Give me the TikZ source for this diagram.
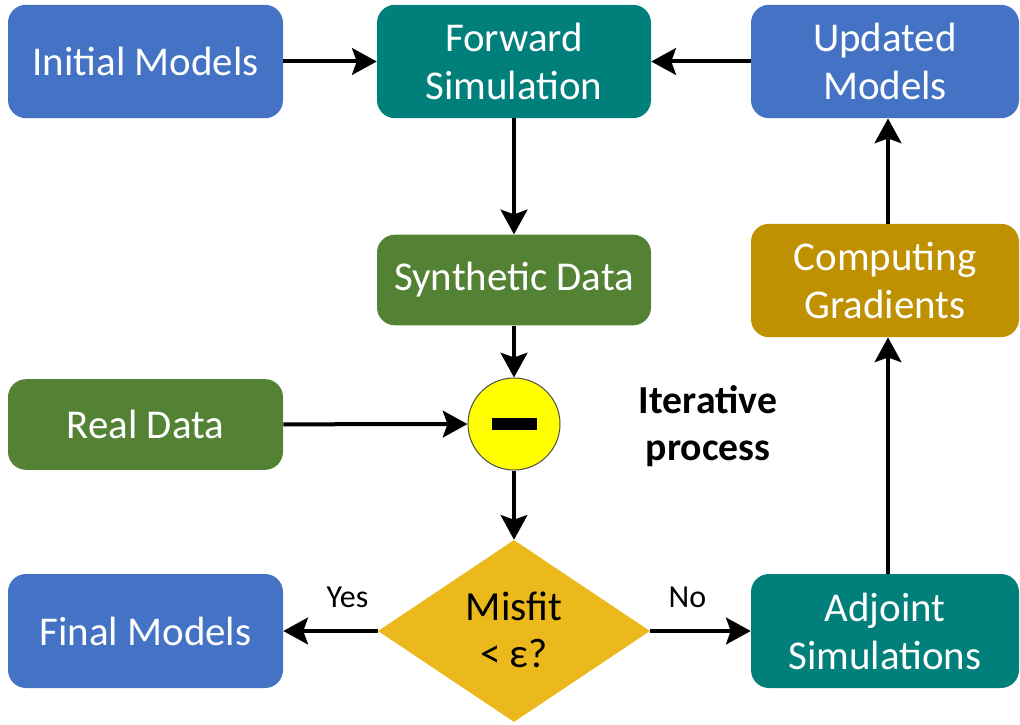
\documentclass[tikz,border=0pt]{standalone}
\usepackage{fontspec}
\setmainfont{Carlito}
\usetikzlibrary{arrows.meta,shapes.geometric}
\definecolor{cblue}{HTML}{4472C4}
\definecolor{cteal}{HTML}{007F7B}
\definecolor{cgreen}{HTML}{548235}
\definecolor{cgold}{HTML}{BF9000}
\definecolor{cdiam}{HTML}{EBB91B}
\definecolor{cyell}{HTML}{FFFF00}
\tikzset{
  box/.style={rectangle, rounded corners=13.5pt, inner sep=0pt, text=white, align=center,
    font=\fontsize{30.7}{36}\selectfont},
  wide/.style={minimum width=206.25pt},
  narrow/.style={minimum width=201pt},
  tall/.style={minimum height=85pt},
  short/.style={minimum height=68pt},
  conn/.style={line width=3pt, -{Stealth[length=18.5pt,width=20pt,inset=3.5pt]}},
  lbl/.style={font=\fontsize{24}{28}\selectfont, inner sep=0pt, anchor=center},
}
\begin{document}
\begin{tikzpicture}[x=0.75pt,y=-0.75pt]
\useasboundingbox (0,0) rectangle (1020,724);
\node[box, wide, tall, fill=cblue] (init) at (145.5,61.5) {Initial Models};
\node[box, minimum width=205.5pt, tall, fill=cteal] (fwd) at (514,61.5) {Forward\\Simulation};
\node[box, narrow, tall, fill=cblue] (upd) at (885,61.5) {Updated\\Models};
\node[box, minimum width=205.5pt, short, fill=cgreen] (synth) at (514,280) {Synthetic Data};
\node[box, narrow, tall, fill=cgold] (comp) at (885,280.5) {Computing\\Gradients};
\node[box, wide, short, fill=cgreen] (real) at (145.5,424.5) {Real Data};
\node[box, wide, minimum height=85.5pt, fill=cblue] (final) at (145.5,631) {Final Models};
\node[box, narrow, minimum height=85.5pt, fill=cteal] (adj) at (885,631) {Adjoint\\Simulations};
\node[circle, draw=black!70, line width=0.75pt, fill=cyell, minimum size=69pt, inner sep=0pt] (minus) at (514,424) {};
\node[fill=black, minimum width=33.75pt, minimum height=9pt, inner sep=0pt] (bar) at (514,424) {};
\node[diamond, fill=cdiam, minimum width=204pt, minimum height=136.5pt, inner sep=0pt] (misfit) at (514,631) {};
\node[align=center, font=\fontsize{31}{35}\selectfont, inner sep=0pt] (misfittext) at (514,630) {Misfit\\< ε?};
\node[align=center, font=\bfseries\fontsize{29.8}{35}\selectfont, inner sep=0pt] (iter) at (708,426) {Iterative\\process};
\draw[conn] (init) -- (fwd);
\draw[conn] (upd) -- (fwd);
\draw[conn] (fwd) -- (synth);
\draw[conn] (synth) -- (minus);
\draw[conn] (real) -- (minus);
\draw[conn] (minus) -- (misfit);
\draw[conn] (misfit) -- node[lbl, pos=0.32, yshift=25.5pt] (yes) {Yes} (final);
\draw[conn] (misfit) -- node[lbl, pos=0.37, yshift=25.5pt] (no) {No} (adj);
\draw[conn] (adj.north -| 888,0) -- (comp.south -| 888,0);
\draw[conn] (comp.north -| 888,0) -- (upd.south -| 888,0);
\end{tikzpicture}
\end{document}
